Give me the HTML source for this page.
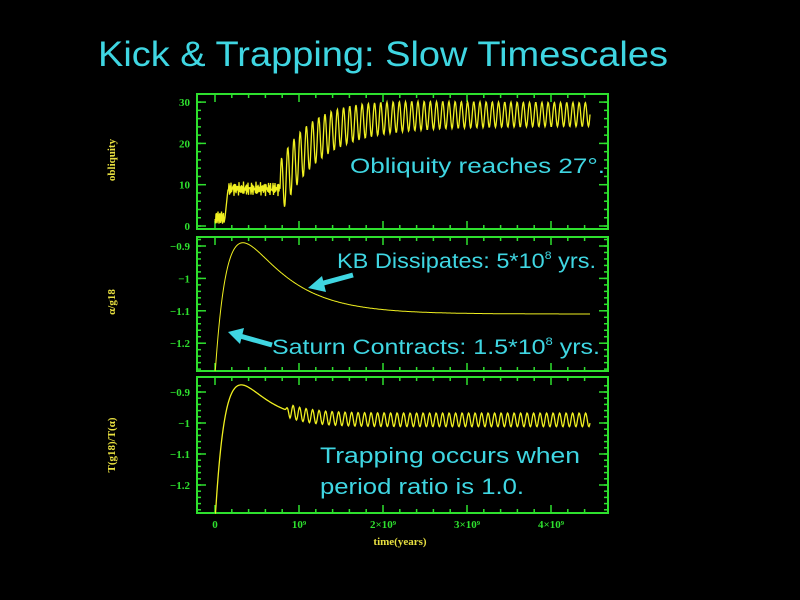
<!DOCTYPE html>
<html><head><meta charset="utf-8"><style>
html,body{margin:0;padding:0;background:#000;}
svg{display:block}
</style></head><body>
<svg id="s" width="800" height="600" viewBox="0 0 800 600" xmlns="http://www.w3.org/2000/svg" font-family="Liberation Sans, sans-serif">
<rect width="800" height="600" fill="#000"/>
<text x="98" y="66" font-size="35" fill="#3fd6e2" textLength="570" lengthAdjust="spacingAndGlyphs">Kick &amp; Trapping: Slow Timescales</text>
<g id="frames" stroke="#2ee02e" stroke-width="2" fill="none"></g>
<g id="labels" font-family="Liberation Serif, serif" font-size="11" fill="#2ee02e" font-weight="bold"></g>
<g id="data" stroke="#f0f020" stroke-width="1.3" fill="none"></g>
<g font-family="Liberation Serif, serif" font-size="11" fill="#e8e040" font-weight="bold">
<text transform="translate(115,160) rotate(-90)" text-anchor="middle">obliquity</text>
<text transform="translate(115,302) rotate(-90)" text-anchor="middle">α/g18</text>
<text transform="translate(115,445) rotate(-90)" text-anchor="middle">T(g18)/T(α)</text>
<text x="400" y="545" text-anchor="middle">time(years)</text>
</g>
<g fill="#3fd6e2" font-size="21">
<text x="350" y="173" textLength="255" lengthAdjust="spacingAndGlyphs">Obliquity reaches 27°.</text>
<text x="337" y="268" textLength="259" lengthAdjust="spacingAndGlyphs">KB Dissipates: 5*10<tspan dy="-9" font-size="11">8</tspan><tspan dy="9"> yrs.</tspan></text>
<text x="272" y="354" textLength="328" lengthAdjust="spacingAndGlyphs">Saturn Contracts: 1.5*10<tspan dy="-9" font-size="11">8</tspan><tspan dy="9"> yrs.</tspan></text>
<text x="320" y="463" font-size="22" textLength="260" lengthAdjust="spacingAndGlyphs">Trapping occurs when</text>
<text x="320" y="494" font-size="22" textLength="204" lengthAdjust="spacingAndGlyphs">period ratio is 1.0.</text>
</g>
<g stroke="#3fd6e2" stroke-width="5" fill="#3fd6e2">
<line x1="353" y1="275" x2="320" y2="284"/>
<polygon points="308,288 322,276 326,292" stroke="none"/>
<line x1="272" y1="345" x2="240" y2="336"/>
<polygon points="228,332 244,328 240,344" stroke="none"/>
</g>
</svg>
<script>
var NS="http://www.w3.org/2000/svg";
function el(p,t,a,txt){var e=document.createElementNS(NS,t);for(var k in a)e.setAttribute(k,a[k]);if(txt!=null)e.textContent=txt;p.appendChild(e);return e;}
var F=document.getElementById('frames'),L=document.getElementById('labels'),D=document.getElementById('data');
var X0=215,XS=84,XL=197,XR=608;
var panels=[[94,229],[237,371],[377,513]];
panels.forEach(function(p,i){
 el(F,'rect',{x:XL,y:p[0],width:XR-XL,height:p[1]-p[0]});
 for(var t=0;t<=4.6;t+=0.2){var x=X0+t*XS;if(x>XR-2)break;var big=Math.abs(t-Math.round(t))<0.01;var h=big?8:4;
  el(F,'line',{x1:x,y1:p[0],x2:x,y2:p[0]+h,'stroke-width':1.5});el(F,'line',{x1:x,y1:p[1],x2:x,y2:p[1]-h,'stroke-width':1.5});}
});
function yt(p,vals,minor,fy,lab){
 minor.forEach(function(v){var y=fy(v);if(y<p[0]||y>p[1])return;el(F,'line',{x1:XL,y1:y,x2:XL+4,y2:y,'stroke-width':1.5});el(F,'line',{x1:XR,y1:y,x2:XR-4,y2:y,'stroke-width':1.5});});
 vals.forEach(function(v,j){var y=fy(v);el(F,'line',{x1:XL,y1:y,x2:XL+9,y2:y,'stroke-width':1.5});el(F,'line',{x1:XR,y1:y,x2:XR-9,y2:y,'stroke-width':1.5});
  el(L,'text',{x:190,y:y+4,'text-anchor':'end'},lab[j]);});
}
var f1=function(v){return 226-v*4.13;};
var m1=[];for(var v=0;v<=32;v+=2)m1.push(v);
yt(panels[0],[0,10,20,30],m1,f1,['0','10','20','30']);
var f2=function(v){return 246+(-0.9-v)*324;};
var m=[];for(var v=-1.3;v<=-0.86;v+=0.02)m.push(v);
yt(panels[1],[-0.9,-1,-1.1,-1.2],m,f2,['−0.9','−1','−1.1','−1.2']);
var f3=function(v){return 392+(-0.9-v)*310;};
yt(panels[2],[-0.9,-1,-1.1,-1.2],m,f3,['−0.9','−1','−1.1','−1.2']);
[['0',0],['10⁹',1],['2×10⁹',2],['3×10⁹',3],['4×10⁹',4]].forEach(function(a){el(L,'text',{x:X0+a[1]*XS,y:528,'text-anchor':'middle'},a[0]);});
var XE=590;
function pts(fn){var s=[];for(var x=X0;x<=XE;x+=0.5){s.push(x.toFixed(1)+','+fn(x).toFixed(1));}return s.join(' ');}
el(D,'polyline',{points:pts(function(x){var v;
 if(x<225)v=2+1.5*Math.sin(x*9);
 else if(x<228)v=2+(x-225)/3*7;
 else if(x<280)v=9+1.3*Math.sin(x*7)+0.5*Math.sin(x*3);
 else{var t=(x-280);var base=27-18*Math.exp(-t/35);var amp=4*Math.exp(-t/80)+2.8;v=base+amp*Math.sin((x-280)*2*Math.PI/6.2);v=Math.min(v,30.5);}
 return f1(v);})});
// smooth double-exponential bump scaled to hit target peak
function mk(v0,vinf,vpk,a,b){
 function g(t,K){return vinf+(v0-vinf)*Math.exp(-t/a)+K*(Math.exp(-t/b)-Math.exp(-t/a));}
 var lo=0,hi=5;for(var i=0;i<50;i++){var K=(lo+hi)/2,mx=-9;for(var t=0;t<200;t+=0.5)mx=Math.max(mx,g(t,K));if(mx>vpk)hi=K;else lo=K;}
 var KK=(lo+hi)/2;return function(t){return g(t,KK);};
}
var g2=mk(-1.3,-1.11,-0.89,13,45);
el(D,'polyline',{points:pts(function(x){return Math.min(371,f2(g2(x-X0)));}),'stroke-width':1});
var g3=mk(-1.32,-0.99,-0.877,12,24);
el(D,'polyline',{points:pts(function(x){var v=g3(x-X0);
 if(x>285){v+=0.022*Math.min(1,(x-285)/5)*Math.sin((x-285)*2*Math.PI/6.5);}
 return Math.min(513,f3(v));})});
</script>
</body></html>
